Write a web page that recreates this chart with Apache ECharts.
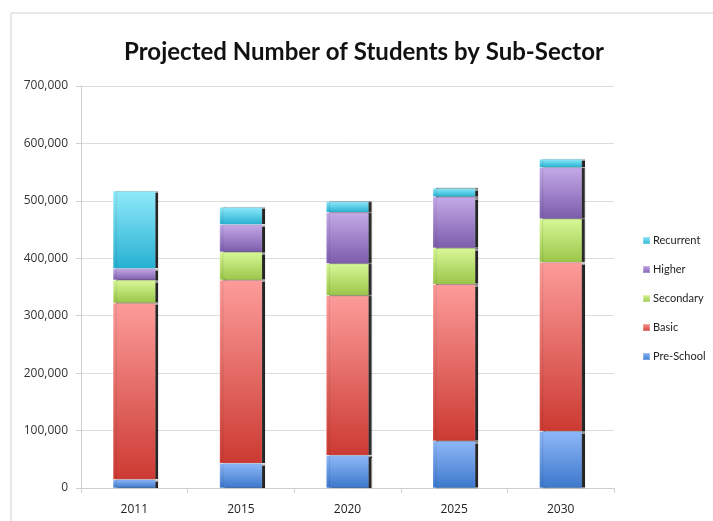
<!DOCTYPE html>
<html>
<head>
<meta charset="utf-8">
<script src="https://cdn.jsdelivr.net/npm/echarts@6/dist/echarts.min.js"></script>
<style>
  html, body { margin: 0; padding: 0; background: #fff; }
  #chart { width: 713px; height: 521px; }
</style>
</head>
<body>
<div id="chart"></div>
<script>
// Projected enrolment per sub-sector, by year
const years = ['2011', '2015', '2020', '2025', '2030'];
const preSchool = [15000, 43000, 57000, 82000, 99000];
const basic     = [307000, 319000, 278000, 273000, 294000];
const secondary = [40000, 49000, 56000, 63000, 76000];
const higher    = [20000, 48000, 89000, 89000, 89000];
const recurrent = [135000, 30000, 19000, 15000, 15000];
const yTicks = [0, 100000, 200000, 300000, 400000, 500000, 600000, 700000];

function grad(top, bottom) {
  return new echarts.graphic.LinearGradient(0, 0, 0, 1, [
    { offset: 0, color: top },
    { offset: 1, color: bottom }
  ]);
}

function seg(name, data, top, bottom) {
  return {
    name: name,
    type: 'bar',
    stack: 'total',
    barWidth: '40%',
    data: data,
    itemStyle: {
      color: grad(top, bottom),
      borderColor: 'rgba(255,255,255,0.25)',
      borderWidth: 0.5,
      shadowColor: 'rgba(0,0,0,0.85)',
      shadowBlur: 1,
      shadowOffsetX: 3,
      shadowOffsetY: 0
    },
    emphasis: { disabled: true }
  };
}

const chart = echarts.init(document.getElementById('chart'));
chart.setOption({
  animation: false,
  color: ['#5b8fe0', '#e05550', '#b2dc6a', '#9a7cc8', '#4cc8e4'],
  title: {
    text: 'Projected Number of Students by Sub-Sector',
    left: 359,
    textAlign: 'center',
    top: 35,
    textStyle: {
      fontFamily: 'Lato',
      fontWeight: 'bold',
      fontSize: 24,
      color: '#111'
    }
  },
  graphic: [{
    type: 'polyline',
    shape: { points: [[11, 521], [11, 13], [713, 13]] },
    style: { stroke: '#d0d0d0', lineWidth: 1, fill: null },
    silent: true
  }],
  legend: {
    orient: 'vertical',
    left: 637,
    top: 230,
    itemWidth: 7,
    itemHeight: 7,
    itemGap: 18,
    icon: 'rect',
    data: ['Recurrent', 'Higher', 'Secondary', 'Basic', 'Pre-School'],
    textStyle: { fontFamily: 'Lato', fontSize: 11, color: '#222', padding: [0, 0, 0, -2] }
  },
  grid: { left: 81, right: 99, top: 86, bottom: 33 },
  xAxis: {
    type: 'category',
    data: years,
    axisLine: { lineStyle: { color: '#d0d0d0' } },
    axisTick: { show: true, length: 5, lineStyle: { color: '#d0d0d0' } },
    axisLabel: { fontFamily: 'Open Sans', fontSize: 12, color: '#222', margin: 16 }
  },
  yAxis: {
    type: 'value',
    min: yTicks[0],
    max: yTicks[yTicks.length - 1],
    interval: 100000,
    axisLine: { show: true, lineStyle: { color: '#d0d0d0' } },
    axisTick: { show: true, length: 5, lineStyle: { color: '#d0d0d0' } },
    splitLine: { lineStyle: { color: '#dcdcdc' } },
    axisLabel: {
      fontFamily: 'Open Sans',
      fontSize: 12,
      color: '#333',
      margin: 13,
      formatter: v => v.toLocaleString('en-US')
    }
  },
  series: [
    seg('Pre-School', preSchool, '#8fb8f8', '#3c78cc'),
    seg('Basic', basic, '#fc9c9a', '#cc3a32'),
    seg('Secondary', secondary, '#d8f898', '#9ac648'),
    seg('Higher', higher, '#c4aae8', '#7c5cac'),
    seg('Recurrent', recurrent, '#90eafa', '#26b0d2')
  ]
});
</script>
</body>
</html>
